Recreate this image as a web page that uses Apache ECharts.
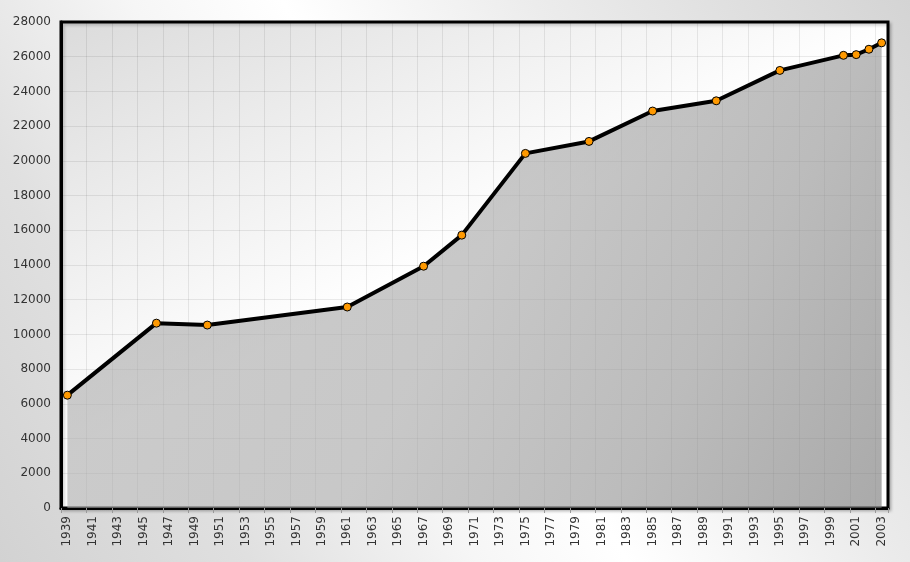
<!DOCTYPE html>
<html>
<head>
<meta charset="utf-8">
<script src="https://cdn.jsdelivr.net/npm/echarts@6/dist/echarts.min.js"></script>
<style>
html,body{margin:0;padding:0;width:910px;height:562px;overflow:hidden;}
#c{width:910px;height:562px;}
</style>
</head>
<body>
<div id="c"></div>
<script>
const yearLabels = ['1939','1940','1941','1942','1943','1944','1945','1946','1947','1948','1949','1950','1951','1952','1953','1954','1955','1956','1957','1958','1959','1960','1961','1962','1963','1964','1965','1966','1967','1968','1969','1970','1971','1972','1973','1974','1975','1976','1977','1978','1979','1980','1981','1982','1983','1984','1985','1986','1987','1988','1989','1990','1991','1992','1993','1994','1995','1996','1997','1998','1999','2000','2001','2002','2003'];
const dataYears = ['1939','1946','1950','1961','1967','1970','1975','1980','1985','1990','1995','2000','2001','2002','2003'];
const population = [6500,10650,10540,11580,13930,15720,20430,21120,22870,23460,25210,26080,26120,26430,26800];

const chart = echarts.init(document.getElementById('c'));
const font = 'DejaVu Sans';
chart.setOption({
  animation: false,
  backgroundColor: {
    type: 'linear', x: 1, y: 0, x2: 0, y2: 1,
    colorStops: [
      {offset: 0, color: '#d4d4d4'},
      {offset: 0.3, color: '#ececec'},
      {offset: 0.5, color: '#ffffff'},
      {offset: 0.62, color: '#f6f6f6'},
      {offset: 0.8, color: '#e0e0e0'},
      {offset: 1, color: '#d2d2d2'}
    ]
  },
  grid: {
    left: 61, right: 22, top: 22, bottom: 54,
    show: true,
    borderColor: '#000', borderWidth: 3,
    shadowColor: 'rgba(0,0,0,0.2)', shadowBlur: 3, shadowOffsetX: 2, shadowOffsetY: 2,
    backgroundColor: {
      type: 'linear', x: 0, y: 0, x2: 0.214, y2: 0.71,
      colorStops: [{offset: 0, color: '#dbdbdb'}, {offset: 1, color: '#ffffff'}]
    }
  },
  xAxis: {
    type: 'category',
    data: yearLabels,
    boundaryGap: true,
    axisLine: {show: true, lineStyle: {color: '#000', width: 3}},
    axisTick: {show: true, interval: 1, length: 5, lineStyle: {color: '#999'}},
    axisLabel: {interval: 1, rotate: 90, margin: 8, color: '#333', fontFamily: font, fontSize: 12},
    splitLine: {show: true, interval: 1, lineStyle: {color: 'rgba(0,0,0,0.08)', width: 1}}
  },
  yAxis: {
    type: 'value',
    min: 0, max: 28000, interval: 2000,
    axisLine: {show: true, lineStyle: {color: '#000', width: 3}},
    axisTick: {show: false},
    axisLabel: {margin: 10, color: '#333', fontFamily: font, fontSize: 12, formatter: v => String(v)},
    splitLine: {show: true, lineStyle: {color: 'rgba(0,0,0,0.08)', width: 1}}
  },
  series: [{
    type: 'line',
    data: dataYears.map((y, i) => [y, population[i]]),
    symbol: 'circle',
    symbolSize: 8,
    itemStyle: {color: '#ff9900', borderColor: '#000', borderWidth: 1},
    lineStyle: {color: '#000', width: 4},
    areaStyle: {
      opacity: 1,
      color: {
        type: 'linear', x: 0, y: 0, x2: 1, y2: 1,
        colorStops: [
          {offset: 0, color: 'rgba(172,172,172,0.6)'},
          {offset: 0.5, color: 'rgba(163,163,163,0.6)'},
          {offset: 0.75, color: 'rgba(143,143,143,0.6)'},
          {offset: 1, color: 'rgba(113,113,113,0.6)'}
        ]
      }
    },
    z: 3
  }]
});
</script>
</body>
</html>
